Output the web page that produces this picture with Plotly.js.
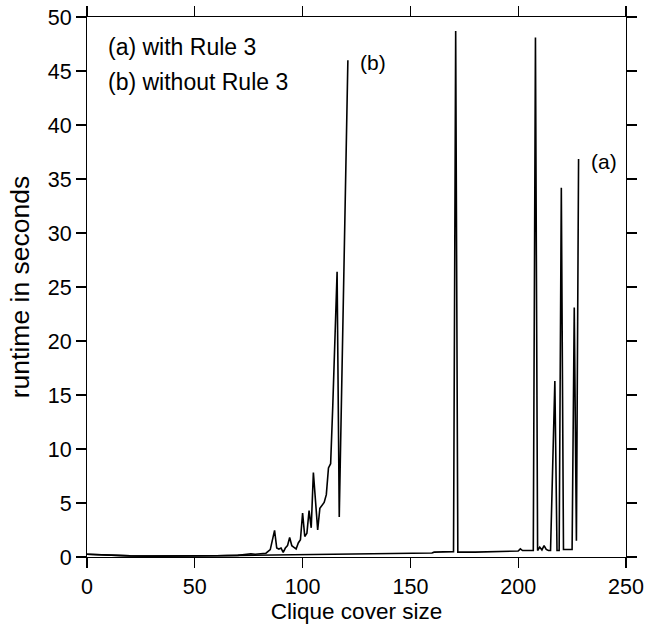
<!DOCTYPE html>
<html>
<head>
<meta charset="utf-8">
<script src="https://cdn.plot.ly/plotly-3.0.1.min.js"></script>
<style>html,body{margin:0;padding:0;background:#fff;}#chart{width:654px;height:631px;}</style>
</head>
<body>
<div id="chart"></div>
<script>
// (a) with Rule 3
const aX = [0, 5, 10, 20, 30, 40, 50, 60, 70, 80, 90, 100, 110, 120, 130, 140, 150, 160, 161, 165, 170, 171, 172, 180, 190, 195, 200, 201, 202, 205, 207, 208, 209, 210, 211, 212, 213, 214, 215, 217, 218, 219, 220, 221, 222, 225, 226, 227, 228];
const aY = [0.25, 0.2, 0.15, 0.1, 0.08, 0.08, 0.1, 0.12, 0.15, 0.18, 0.2, 0.22, 0.25, 0.28, 0.3, 0.32, 0.35, 0.37, 0.45, 0.45, 0.5, 48.7, 0.45, 0.45, 0.5, 0.55, 0.55, 0.75, 0.6, 0.6, 0.6, 48.1, 0.6, 0.92, 0.65, 1.05, 0.7, 0.6, 0.6, 16.3, 0.6, 0.6, 34.2, 0.7, 0.7, 0.7, 23.1, 1.5, 36.85];
// (b) without Rule 3
const bX = [0, 10, 20, 30, 40, 50, 60, 70, 72, 74, 76, 78, 80, 83, 85, 86, 87, 88, 89, 90, 91, 92, 93, 94, 95, 96, 97, 98, 99, 100, 101, 102, 103, 104, 105, 107, 108, 110, 111, 112, 113, 114, 115, 116, 117, 121];
const bY = [0.25, 0.15, 0.1, 0.08, 0.08, 0.1, 0.12, 0.15, 0.2, 0.3, 0.3, 0.25, 0.3, 0.35, 0.68, 1.6, 2.46, 0.83, 0.74, 0.83, 0.43, 0.83, 1.05, 1.8, 1.05, 0.9, 0.75, 1.3, 1.6, 4.07, 1.9, 2.2, 4.3, 2.7, 7.83, 2.5, 4.5, 5.05, 5.77, 8.24, 8.64, 14.0, 20.0, 26.4, 3.7, 46.0];

const xTicks = [0, 50, 100, 150, 200, 250];
const yTicks = [0, 5, 10, 15, 20, 25, 30, 35, 40, 45, 50];
const xTitle = "Clique cover size";
const yTitle = "runtime in seconds";
const legendA = "(a) with Rule 3";
const legendB = "(b) without Rule 3";

const FONT = "Arial, 'Liberation Sans', Helvetica, sans-serif";

const traces = [
  {x: aX, y: aY, type: 'scatter', mode: 'lines', line: {color: '#000', width: 1.6}, hoverinfo: 'skip'},
  {x: bX, y: bY, type: 'scatter', mode: 'lines', line: {color: '#000', width: 1.6}, hoverinfo: 'skip'}
];

const axisCommon = {
  showline: true, linecolor: '#000', linewidth: 1, mirror: 'ticks',
  ticks: 'outside', ticklen: 10, tickwidth: 1.2, tickcolor: '#000',
  showgrid: false, zeroline: false,
  tickfont: {family: FONT, size: 21.5, color: '#000'}
};

const layout = {
  width: 654, height: 631,
  margin: {l: 87, r: 28, t: 17, b: 74},
  paper_bgcolor: '#fff', plot_bgcolor: '#fff',
  showlegend: false,
  font: {family: FONT, color: '#000'},
  xaxis: Object.assign({}, axisCommon, {
    range: [0, 250], tickvals: xTicks, ticktext: xTicks.map(String),
    title: {text: xTitle, font: {family: FONT, size: 22.5, color: '#000'}, standoff: 4}
  }),
  yaxis: Object.assign({}, axisCommon, {
    range: [0, 50], tickvals: yTicks, ticktext: yTicks.map(String),
    title: {text: yTitle, font: {family: FONT, size: 26.5, color: '#000'}, standoff: 10}
  }),
  annotations: [
    {x: 8.8, y: 47.25, xref: 'x', yref: 'y', text: legendA, showarrow: false, xanchor: 'left', yanchor: 'middle', font: {family: FONT, size: 23, color: '#000'}},
    {x: 8.8, y: 44.0, xref: 'x', yref: 'y', text: legendB, showarrow: false, xanchor: 'left', yanchor: 'middle', font: {family: FONT, size: 23, color: '#000'}},
    {x: 125.7, y: 45.8, xref: 'x', yref: 'y', text: '(b)', showarrow: false, xanchor: 'left', yanchor: 'middle', font: {family: FONT, size: 21, color: '#000'}},
    {x: 232.8, y: 36.6, xref: 'x', yref: 'y', text: '(a)', showarrow: false, xanchor: 'left', yanchor: 'middle', font: {family: FONT, size: 21, color: '#000'}}
  ]
};

Plotly.newPlot('chart', traces, layout, {staticPlot: true, displayModeBar: false});
</script>
</body>
</html>
